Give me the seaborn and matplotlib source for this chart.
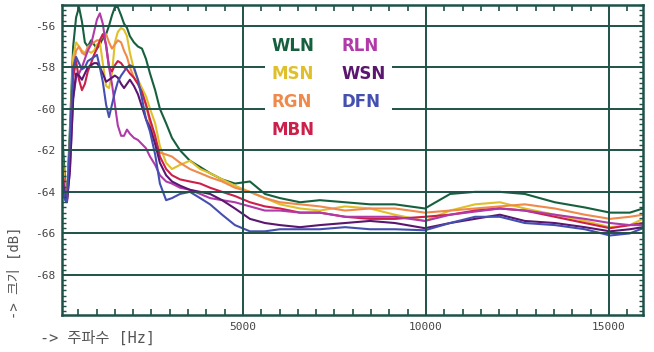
import numpy as np
import pandas as pd
import matplotlib
matplotlib.use("Agg")
import matplotlib.pyplot as plt
from matplotlib.ticker import MultipleLocator, FixedLocator
import seaborn as sns

# ---------------- data ----------------
freq_hz = [55, 140, 190, 270, 360, 440, 520, 600, 680, 760, 850, 930, 1010, 1090,
           1170, 1260, 1340, 1420, 1500, 1580, 1670, 1750, 1830, 1910, 2020, 2130,
           2240, 2350, 2460, 2600, 2730, 2900, 3060, 3280, 3550, 3830, 4100, 4430,
           4780, 5190, 5600, 6010, 6560, 7100, 7790, 8470, 9150, 9970, 10660,
           11340, 12020, 12700, 13520, 14340, 15030, 15570, 15930]

wln = [-61.0, -63.5, -64.3, -61.0, -57.0, -55.6, -55.1, -55.8, -56.8, -57.0, -56.7,
       -56.9, -57.1, -56.9, -56.6, -56.4, -56.0, -55.5, -55.1, -55.1, -55.5, -55.9,
       -56.1, -56.5, -56.8, -57.0, -57.1, -57.6, -58.3, -59.1, -60.0, -60.7, -61.4,
       -62.0, -62.5, -62.8, -63.1, -63.4, -63.6, -63.5, -64.1, -64.3, -64.5, -64.4,
       -64.5, -64.6, -64.6, -64.8, -64.1, -64.0, -64.0, -64.1, -64.5, -64.75, -65.0,
       -65.0, -64.8]
msn = [-62.0, -63.8, -64.3, -61.5, -57.5, -56.8, -57.0, -57.2, -57.3, -57.2, -57.3,
       -57.2, -56.9, -56.8, -57.8, -58.9, -59.0, -58.3, -56.8, -56.3, -56.1, -56.2,
       -56.5, -57.3, -58.1, -58.6, -59.0, -59.4, -60.0, -60.7, -61.8, -62.6, -62.9,
       -62.7, -62.5, -62.9, -63.1, -63.4, -63.7, -64.0, -64.3, -64.6, -64.8, -64.9,
       -64.7, -64.8, -65.1, -65.4, -64.9, -64.6, -64.5, -64.8, -65.1, -65.4, -65.7,
       -65.6, -65.3]
rgn = [-62.5, -64.0, -64.3, -62.0, -58.0, -57.2, -57.0, -57.3, -57.4, -57.0, -56.9,
       -56.8, -56.7, -56.7, -56.5, -56.4, -56.8, -57.1, -56.9, -56.7, -56.8, -57.2,
       -57.5, -58.0, -58.5, -58.8, -59.2, -59.8, -60.7, -61.5, -62.1, -62.2, -62.3,
       -62.6, -62.9, -63.1, -63.3, -63.5, -63.8, -64.0, -64.3, -64.5, -64.6, -64.7,
       -64.9, -64.8, -64.8, -65.0, -64.9, -64.8, -64.7, -64.6, -64.8, -65.1, -65.3,
       -65.2, -65.1]
mbn = [-62.8, -64.1, -64.4, -62.5, -58.5, -57.7, -58.6, -59.1, -58.8, -58.2, -57.8,
       -57.4, -57.1, -56.7, -56.4, -56.9, -58.0, -58.2, -57.9, -57.7, -57.8, -58.0,
       -58.1, -58.3, -58.5, -58.8, -59.2, -59.8, -60.5, -61.3, -62.3, -62.9, -63.2,
       -63.4, -63.5, -63.6, -63.8, -64.0, -64.2, -64.5, -64.7, -64.8, -65.0, -65.0,
       -65.2, -65.3, -65.3, -65.2, -65.1, -64.9, -64.8, -64.9, -65.2, -65.5, -65.75,
       -65.6, -65.5]
rln = [-63.0, -64.2, -64.4, -63.0, -59.5, -58.5, -58.3, -58.0, -57.6, -57.2, -56.9,
       -56.3, -55.7, -55.4, -55.9, -57.0, -58.0, -58.8, -59.8, -60.8, -61.3, -61.3,
       -61.0, -61.2, -61.4, -61.5, -61.7, -61.9, -62.3, -62.7, -63.2, -63.5, -63.6,
       -63.8, -63.9, -64.1, -64.3, -64.4, -64.5, -64.7, -64.9, -64.9, -65.0, -65.0,
       -65.2, -65.2, -65.2, -65.4, -65.1, -64.95, -64.8, -64.9, -65.1, -65.3, -65.5,
       -65.6, -65.6]
wsn = [-63.2, -64.3, -64.5, -63.0, -59.5, -58.3, -58.4, -58.6, -58.3, -58.0, -57.9,
       -57.8, -57.8, -58.0, -58.3, -58.7, -58.6, -58.5, -58.4, -58.5, -58.8, -59.0,
       -58.8, -58.6, -58.9, -59.3, -59.9, -60.5, -60.9, -61.7, -62.6, -63.2, -63.5,
       -63.7, -63.9, -64.0, -64.1, -64.4, -64.8, -65.3, -65.5, -65.6, -65.7, -65.6,
       -65.5, -65.4, -65.5, -65.75, -65.5, -65.3, -65.1, -65.4, -65.5, -65.7, -65.9,
       -65.8, -65.7]
dfn = [-63.5, -64.4, -64.5, -61.5, -58.0, -57.5, -57.8, -58.1, -58.0, -57.7, -57.6,
       -57.5, -57.4, -58.0, -58.7, -59.8, -60.4, -59.8, -59.2, -58.7, -58.4, -58.2,
       -58.0, -57.9, -58.0, -58.6, -59.5, -60.5, -61.1, -62.2, -63.6, -64.4, -64.3,
       -64.1, -64.0, -64.3, -64.6, -65.1, -65.6, -65.9, -65.9, -65.8, -65.8, -65.8,
       -65.7, -65.8, -65.8, -65.85, -65.5, -65.2, -65.2, -65.5, -65.6, -65.8, -66.1,
       -66.0, -65.75]

series_names = ["WLN", "MSN", "RGN", "MBN", "RLN", "WSN", "DFN"]
series_values = [wln, msn, rgn, mbn, rln, wsn, dfn]
series_colors = ["#17603f", "#e0c02a", "#ef8a4a", "#cc1f4a", "#b03aa8", "#5b1670", "#4450b0"]

y_ticks = [-56, -58, -60, -62, -64, -66, -68]
x_ticks = [5000, 10000, 15000]

# ---------------- frame ----------------
frames = []
for name, vals in zip(series_names, series_values):
    frames.append(pd.DataFrame({"freq": freq_hz, "level": vals, "series": name}))
df = pd.concat(frames, ignore_index=True)

sns.set_style("white")
plt.rcParams["font.family"] = ["DejaVu Sans", "Noto Sans CJK KR"]

grid_c = "#1e5248"
fig = plt.figure(figsize=(6.54, 3.52), dpi=100)
ax = fig.add_axes([62 / 654, 1 - 315 / 352, (643 - 62) / 654, (315 - 5) / 352])

palette = dict(zip(series_names, series_colors))
sns.lineplot(data=df, x="freq", y="level", hue="series", hue_order=series_names,
             palette=palette, linewidth=1.5, estimator=None, ax=ax)

ax.set_xlim(55, 15930)
ax.set_ylim(-69.93, -55.0)

ax.xaxis.set_major_locator(FixedLocator(x_ticks))
ax.xaxis.set_minor_locator(MultipleLocator(500))
ax.yaxis.set_major_locator(FixedLocator(y_ticks))
ax.yaxis.set_minor_locator(MultipleLocator(0.25))

ax.set_axisbelow(False)
ax.grid(True, which="major", color=grid_c, linewidth=1.4)
for s in ax.spines.values():
    s.set_color(grid_c)
    s.set_linewidth(1.8)

mono = ["DejaVu Sans Mono", "Noto Sans CJK KR"]
ax.tick_params(axis="both", which="major", direction="in", length=0, labelsize=8,
               labelcolor="#444444", pad=5)
ax.tick_params(axis="x", which="minor", direction="in", length=4, width=1.2,
               color=grid_c, top=True, bottom=True)
ax.tick_params(axis="y", which="minor", direction="in", length=3, width=1.0,
               color=grid_c, left=True, right=True)
ax.set_xticklabels([str(v) for v in x_ticks], family=mono)
ax.set_yticklabels([str(v) for v in y_ticks], family=mono)
ax.set_xlabel("")
ax.set_ylabel("")

fig.text(40 / 654, 1 - 338 / 352, "-> 주파수 [Hz]", family=mono, fontsize=11,
         color="#555555", ha="left", va="center")
fig.text(15 / 654, 1 - 273 / 352, "-> 크기 [dB]", family=mono, fontsize=10,
         color="#555555", ha="center", va="center", rotation=90)

handles, labels = ax.get_legend_handles_labels()
leg = ax.legend(handles, labels, ncol=2, loc="upper left",
                bbox_to_anchor=((265 - 62) / 581, 1 - (30 - 5) / 310),
                frameon=True, facecolor="white", edgecolor="none", framealpha=1,
                handlelength=0, handletextpad=0, columnspacing=1.6,
                labelspacing=0.6, borderpad=0.4, borderaxespad=0,
                prop={"family": "DejaVu Sans", "weight": "bold", "size": 12},
                labelcolor="linecolor", fancybox=False)
for h in leg.legend_handles:
    h.set_visible(False)

fig.savefig("out.png", dpi=100, facecolor="white")
